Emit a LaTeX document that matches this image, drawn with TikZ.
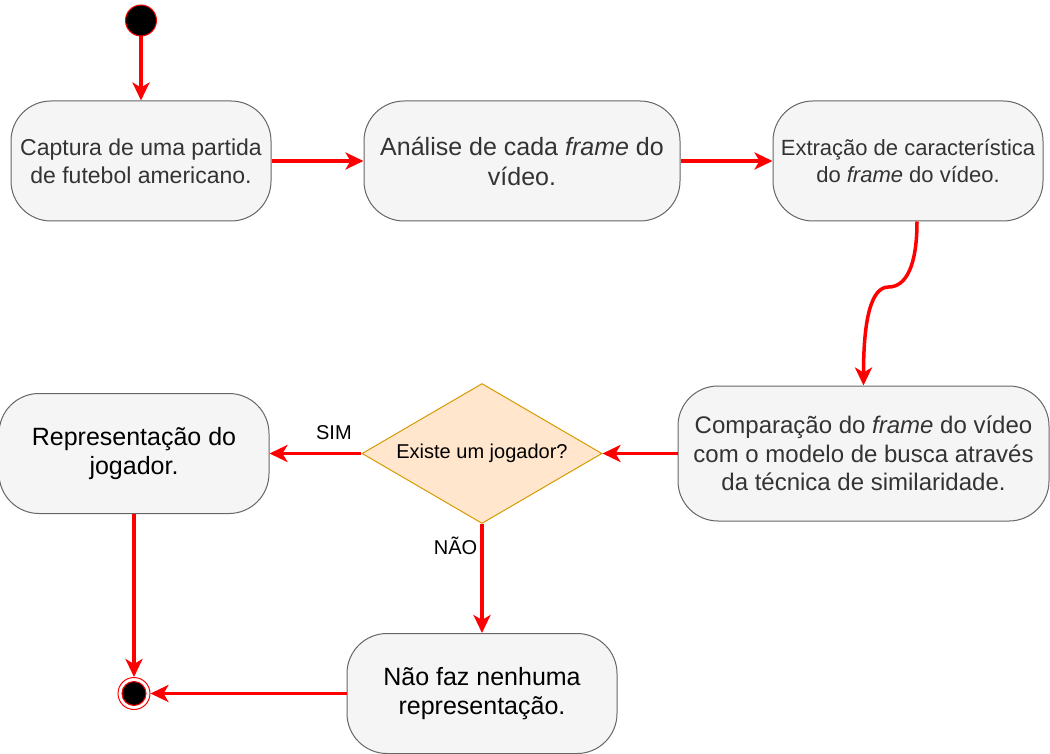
\documentclass[tikz,border=0pt]{standalone}
\usepackage{fontspec}
\setmainfont{Liberation Sans}
\usetikzlibrary{arrows.meta,positioning,shapes.geometric}
\definecolor{FlowRed}{HTML}{FF0000}
\definecolor{BoxFill}{HTML}{F5F5F5}
\definecolor{BoxLine}{HTML}{666666}
\definecolor{BoxText}{HTML}{333333}
\definecolor{DecFill}{HTML}{FFE6CC}
\definecolor{DecLine}{HTML}{D79B00}
\tikzset{
  act/.style={rounded corners=40pt, draw=BoxLine, fill=BoxFill, line width=1pt, minimum height=120pt, inner sep=0pt, align=center, text=BoxText},
  blackact/.style={act, text=black},
  decision/.style={diamond, aspect=1.7, draw=DecLine, fill=DecFill, line width=1pt, minimum width=240pt, minimum height=140pt, inner sep=0pt, align=center},
  startdot/.style={circle, draw=FlowRed, fill=black, line width=1pt, minimum size=31pt, inner sep=0pt},
  enddot/.style={circle, draw=FlowRed, fill=white, line width=1pt, minimum size=32pt, inner sep=0pt},
  arr/.style={-{Stealth[length=18pt,width=17pt,inset=5pt]}, line width=3.5pt, draw=FlowRed},
  lbl/.style={inner sep=0pt, font=\fontsize{20}{24}\selectfont}
}
\begin{document}
\begin{tikzpicture}[x=1pt,y=-1pt]
\useasboundingbox (0,0) rectangle (1050,754);
\node[act,minimum width=260pt,font=\fontsize{23}{28}\selectfont] (b1) at (141,161) {Captura de uma partida\\de futebol americano.};
\node[startdot,above=64pt of b1] (start) {};
\node[act,minimum width=316pt,font=\fontsize{25}{30}\selectfont,right=92pt of b1] (b2) {An\'alise de cada \textit{frame} do\\v\'ideo.};
\node[act,minimum width=270pt,font=\fontsize{22}{27}\selectfont,right=92pt of b2] (b3) {Extra\c{c}\~ao de caracter\'istica\\do \textit{frame} do v\'ideo.};
\node[act,minimum width=371pt,minimum height=135pt,font=\fontsize{24}{28.5}\selectfont] (b4) at (863.5,453.5) {Compara\c{c}\~ao do \textit{frame} do v\'ideo\\com o modelo de busca atrav\'es\\da t\'ecnica de similaridade.};
\node[decision,font=\fontsize{20}{24}\selectfont,left=75pt of b4] (dec) {Existe um jogador?};
\node[blackact,minimum width=270pt,font=\fontsize{25}{29}\selectfont,left=92pt of dec] (b5) {Representa\c{c}\~ao do\\jogador.};
\node[blackact,minimum width=270pt,font=\fontsize{25}{29}\selectfont,below=109pt of dec] (b6) {N\~ao faz nenhuma\\representa\c{c}\~ao.};
\node[enddot,below=163pt of b5] (end) {};
\node[circle,fill=black,draw=FlowRed,line width=1pt,minimum size=24pt,inner sep=0pt] (endin) at (end) {};
\coordinate (bend) at (888.5,287);
\draw[arr] (start) -- (b1);
\draw[arr] (b1) -- (b2);
\draw[arr] (b2) -- (b3);
\draw[arr] ([xshift=9pt]b3.south) .. controls +(0,44) and +(17.7,0) .. (bend) .. controls +(-17.7,0) and +(0,-65) .. (b4.north);
\draw[arr] (b4) -- (dec);
\draw[arr] (dec) -- node[lbl,pos=0.3,above=12pt]{SIM} (b5);
\draw[arr] (dec) -- node[lbl,pos=0.2,left=3pt]{N\~AO} (b6);
\draw[arr] (b5) -- (end);
\draw[arr] (b6) -- (end);
\end{tikzpicture}
\end{document}
